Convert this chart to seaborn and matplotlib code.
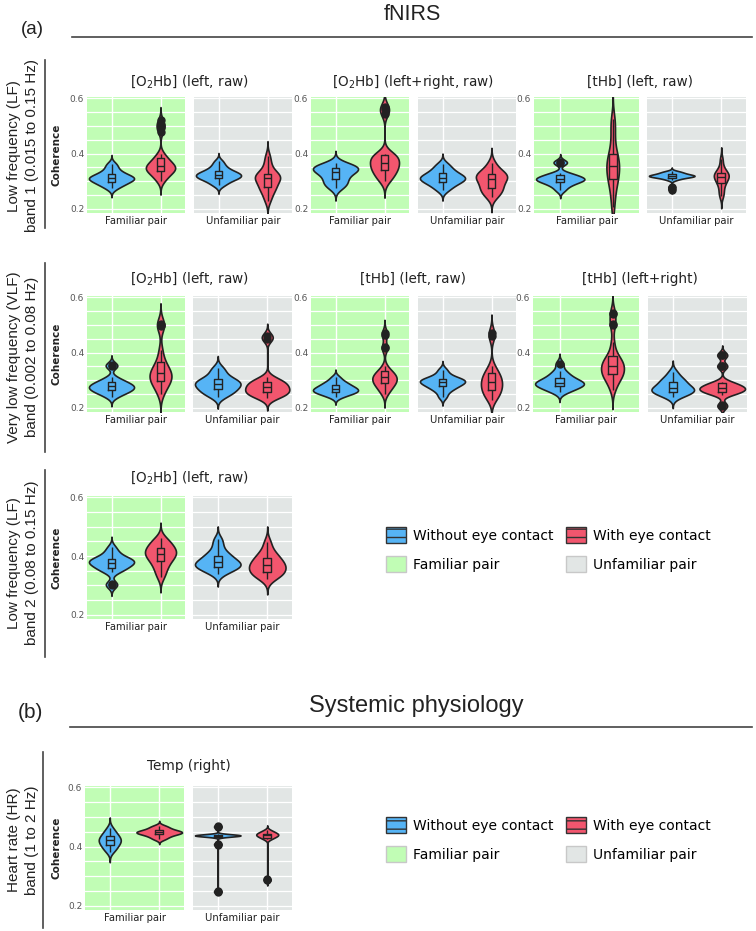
"""
Coherence violins: fNIRS channels and systemic physiology, with/without eye contact.
"""

import numpy as np
import pandas as pd
import seaborn as sns
import matplotlib.pyplot as plt
from matplotlib.lines import Line2D
from matplotlib.patches import Patch
from matplotlib.ticker import FixedLocator, MultipleLocator

W, H = 756, 931

BLUE = "#56B4F5"
RED = "#F2566E"
GREEN_BG = "#C1FDB5"
GREY_BG = "#E2E6E5"
INK = "#222222"

conditions = ["Without eye contact", "With eye contact"]
pair_labels = ["Familiar pair", "Unfamiliar pair"]
y_ticks = [0.2, 0.4, 0.6]

#####################################
# Coherence values
#####################################

# LF band 1 (0.015 to 0.15 Hz)
lf1_o2hb_left_fam_without = [0.274, 0.285, 0.29, 0.295, 0.30, 0.305, 0.308, 0.31, 0.312, 0.316, 0.32, 0.325, 0.33, 0.338, 0.35, 0.363]
lf1_o2hb_left_fam_with = [0.30, 0.31, 0.318, 0.325, 0.33, 0.335, 0.338, 0.342, 0.345, 0.348, 0.35, 0.352, 0.356, 0.36, 0.365, 0.37, 0.375, 0.38, 0.39, 0.40, 0.48, 0.495, 0.505, 0.52]
lf1_o2hb_left_unf_without = [0.285, 0.295, 0.302, 0.308, 0.311, 0.315, 0.318, 0.321, 0.324, 0.327, 0.331, 0.335, 0.34, 0.348, 0.358, 0.372]
lf1_o2hb_left_unf_with = [0.23, 0.25, 0.265, 0.275, 0.28, 0.29, 0.30, 0.308, 0.312, 0.316, 0.32, 0.325, 0.33, 0.345, 0.365, 0.39]
lf1_o2hb_lr_fam_without = [0.274, 0.285, 0.293, 0.30, 0.31, 0.318, 0.326, 0.332, 0.337, 0.341, 0.345, 0.348, 0.352, 0.356, 0.36, 0.366]
lf1_o2hb_lr_fam_with = [0.30, 0.31, 0.32, 0.328, 0.335, 0.342, 0.348, 0.353, 0.358, 0.364, 0.37, 0.376, 0.382, 0.388, 0.393, 0.397, 0.40, 0.545, 0.56, 0.57]
lf1_o2hb_lr_unf_without = [0.267, 0.28, 0.288, 0.295, 0.30, 0.305, 0.309, 0.312, 0.316, 0.32, 0.326, 0.332, 0.34, 0.35, 0.363]
lf1_o2hb_lr_unf_with = [0.243, 0.255, 0.265, 0.273, 0.28, 0.29, 0.30, 0.308, 0.313, 0.318, 0.322, 0.327, 0.335, 0.345, 0.366]
lf1_thb_left_fam_without = [0.267, 0.28, 0.288, 0.293, 0.298, 0.302, 0.305, 0.307, 0.309, 0.312, 0.316, 0.32, 0.325, 0.33, 0.366, 0.37]
lf1_thb_left_fam_with = [0.207, 0.25, 0.28, 0.30, 0.313, 0.325, 0.338, 0.35, 0.36, 0.372, 0.385, 0.392, 0.42, 0.46, 0.50, 0.525]
lf1_thb_left_unf_without = [0.27, 0.28, 0.305, 0.31, 0.313, 0.315, 0.317, 0.318, 0.319, 0.32, 0.321, 0.323, 0.325, 0.327, 0.33, 0.333, 0.336]
lf1_thb_left_unf_with = [0.245, 0.26, 0.275, 0.29, 0.297, 0.305, 0.31, 0.316, 0.32, 0.324, 0.328, 0.332, 0.34, 0.355, 0.38]

# VLF band (0.002 to 0.08 Hz)
vlf_o2hb_left_fam_without = [0.24, 0.25, 0.256, 0.26, 0.264, 0.268, 0.272, 0.275, 0.278, 0.281, 0.285, 0.29, 0.294, 0.30, 0.31, 0.35, 0.356]
vlf_o2hb_left_fam_with = [0.25, 0.265, 0.28, 0.288, 0.294, 0.30, 0.306, 0.312, 0.318, 0.322, 0.328, 0.335, 0.342, 0.35, 0.36, 0.38, 0.41, 0.495, 0.50, 0.505]
vlf_o2hb_left_unf_without = [0.24, 0.25, 0.258, 0.263, 0.27, 0.276, 0.282, 0.286, 0.29, 0.295, 0.30, 0.306, 0.315, 0.33, 0.345]
vlf_o2hb_left_unf_with = [0.235, 0.242, 0.248, 0.252, 0.256, 0.26, 0.265, 0.27, 0.275, 0.28, 0.285, 0.29, 0.295, 0.30, 0.31, 0.45, 0.46]
vlf_thb_left_fam_without = [0.24, 0.248, 0.253, 0.257, 0.26, 0.263, 0.266, 0.27, 0.274, 0.278, 0.283, 0.29, 0.296, 0.31]
vlf_thb_left_fam_with = [0.25, 0.262, 0.27, 0.277, 0.283, 0.288, 0.292, 0.296, 0.30, 0.304, 0.308, 0.312, 0.316, 0.32, 0.325, 0.33, 0.335, 0.35, 0.415, 0.42, 0.465, 0.47]
vlf_thb_left_unf_without = [0.24, 0.258, 0.268, 0.275, 0.28, 0.285, 0.29, 0.293, 0.296, 0.30, 0.303, 0.306, 0.312, 0.322, 0.338]
vlf_thb_left_unf_with = [0.23, 0.242, 0.252, 0.26, 0.268, 0.276, 0.284, 0.29, 0.298, 0.306, 0.314, 0.322, 0.332, 0.35, 0.46, 0.47]
vlf_thb_lr_fam_without = [0.257, 0.265, 0.272, 0.277, 0.281, 0.285, 0.288, 0.291, 0.295, 0.30, 0.306, 0.313, 0.322, 0.335, 0.36]
vlf_thb_lr_fam_with = [0.265, 0.28, 0.295, 0.305, 0.31, 0.315, 0.32, 0.325, 0.33, 0.335, 0.34, 0.345, 0.35, 0.355, 0.36, 0.365, 0.37, 0.375, 0.38, 0.39, 0.41, 0.44, 0.50, 0.505, 0.54, 0.545]
vlf_thb_lr_unf_without = [0.24, 0.248, 0.254, 0.258, 0.262, 0.266, 0.27, 0.274, 0.28, 0.288, 0.296, 0.302, 0.312, 0.33]
vlf_thb_lr_unf_with = [0.205, 0.21, 0.248, 0.252, 0.256, 0.259, 0.262, 0.265, 0.268, 0.27, 0.272, 0.275, 0.278, 0.282, 0.286, 0.29, 0.295, 0.35, 0.352, 0.39, 0.392]

# LF band 2 (0.08 to 0.15 Hz)
lf2_o2hb_left_fam_without = [0.30, 0.305, 0.345, 0.352, 0.358, 0.363, 0.368, 0.372, 0.376, 0.379, 0.382, 0.385, 0.388, 0.392, 0.396, 0.405, 0.415, 0.43]
lf2_o2hb_left_fam_with = [0.33, 0.35, 0.365, 0.378, 0.387, 0.395, 0.402, 0.408, 0.413, 0.418, 0.425, 0.432, 0.44, 0.45, 0.46]
lf2_o2hb_left_unf_without = [0.34, 0.35, 0.357, 0.362, 0.366, 0.37, 0.374, 0.378, 0.383, 0.39, 0.398, 0.405, 0.415, 0.435, 0.457]
lf2_o2hb_left_unf_with = [0.323, 0.332, 0.338, 0.343, 0.35, 0.357, 0.363, 0.368, 0.373, 0.38, 0.388, 0.397, 0.405, 0.42, 0.447]

# Heart rate band (1 to 2 Hz)
hr_temp_right_fam_without = [0.383, 0.392, 0.40, 0.406, 0.412, 0.417, 0.421, 0.425, 0.43, 0.436, 0.442, 0.45, 0.462]
hr_temp_right_fam_with = [0.425, 0.432, 0.437, 0.441, 0.444, 0.446, 0.448, 0.45, 0.452, 0.455, 0.459, 0.464, 0.47]
hr_temp_right_unf_without = [0.245, 0.25, 0.405, 0.41, 0.432, 0.434, 0.435, 0.436, 0.437, 0.437, 0.438, 0.438, 0.439, 0.44, 0.441, 0.443, 0.465, 0.47]
hr_temp_right_unf_with = [0.285, 0.29, 0.425, 0.43, 0.433, 0.436, 0.438, 0.44, 0.442, 0.444, 0.447, 0.45, 0.455]

#####################################
# Layout (pixels in the 756x931 canvas)
#####################################

# (title, fam_without, fam_with, unf_without, unf_with, title_y, axes top, axes bottom, fam x-range, unf x-range)
panels = [
    ("[O$_2$Hb] (left, raw)", lf1_o2hb_left_fam_without, lf1_o2hb_left_fam_with, lf1_o2hb_left_unf_without, lf1_o2hb_left_unf_with, 82, 97, 213, (87, 185), (194, 292)),
    ("[O$_2$Hb] (left+right, raw)", lf1_o2hb_lr_fam_without, lf1_o2hb_lr_fam_with, lf1_o2hb_lr_unf_without, lf1_o2hb_lr_unf_with, 82, 97, 213, (311, 409), (418, 516)),
    ("[tHb] (left, raw)", lf1_thb_left_fam_without, lf1_thb_left_fam_with, lf1_thb_left_unf_without, lf1_thb_left_unf_with, 82, 97, 213, (534, 639), (647, 746)),
    ("[O$_2$Hb] (left, raw)", vlf_o2hb_left_fam_without, vlf_o2hb_left_fam_with, vlf_o2hb_left_unf_without, vlf_o2hb_left_unf_with, 279, 296, 412, (87, 185), (193, 292)),
    ("[tHb] (left, raw)", vlf_thb_left_fam_without, vlf_thb_left_fam_with, vlf_thb_left_unf_without, vlf_thb_left_unf_with, 279, 296, 412, (311, 409), (418, 516)),
    ("[tHb] (left+right)", vlf_thb_lr_fam_without, vlf_thb_lr_fam_with, vlf_thb_lr_unf_without, vlf_thb_lr_unf_with, 279, 296, 412, (533, 639), (648, 747)),
    ("[O$_2$Hb] (left, raw)", lf2_o2hb_left_fam_without, lf2_o2hb_left_fam_with, lf2_o2hb_left_unf_without, lf2_o2hb_left_unf_with, 478, 496, 619, (87, 185), (193, 292)),
    ("Temp (right)", hr_temp_right_fam_without, hr_temp_right_fam_with, hr_temp_right_unf_without, hr_temp_right_unf_with, 766, 786, 910, (85, 184), (193, 292)),
]

row_labels = [
    ("Low frequency (LF)\nband 1 (0.015 to 0.15 Hz)", 146, 60, 228, 45),
    ("Very low frequency (VLF)\nband (0.002 to 0.08 Hz)", 357, 263, 452, 45),
    ("Low frequency (LF)\nband 2 (0.08 to 0.15 Hz)", 563, 470, 657, 45),
    ("Heart rate (HR)\nband (1 to 2 Hz)", 840, 752, 928, 43),
]


def nrd0_factor(kde):
    """Silverman's rule (like R's bw.nrd0), returned as a factor of the data sd."""
    x = np.asarray(kde.dataset).ravel()
    sd = x.std(ddof=1)
    q75, q25 = np.percentile(x, [75, 25])
    lo = min(sd, (q75 - q25) / 1.34)
    if lo <= 0:
        lo = sd
    return 0.9 * lo * len(x) ** -0.2 / sd


def px_axes(fig, left, top, right, bottom):
    return fig.add_axes([left / W, 1 - bottom / H, (right - left) / W, (bottom - top) / H])


def draw_pair(ax, without, with_, bg, xlabel, show_y):
    df = pd.DataFrame({
        "cond": [conditions[0]] * len(without) + [conditions[1]] * len(with_),
        "coh": list(without) + list(with_),
    })
    ax.set_facecolor(bg)
    sns.violinplot(data=df, x="cond", y="coh", hue="cond", order=conditions, hue_order=conditions,
                   palette=[BLUE, RED], saturation=1, inner=None, cut=3, width=0.92,
                   density_norm="area", common_norm=True,
                   bw_method=nrd0_factor, gridsize=400, linewidth=1.2, linecolor=INK,
                   legend=False, ax=ax)
    sns.boxplot(data=df, x="cond", y="coh", order=conditions, width=0.16, fill=False, color=INK,
                linewidth=1.0, showcaps=False,
                flierprops=dict(marker="o", markersize=5, markerfacecolor=INK, markeredgecolor=INK),
                ax=ax)
    ax.set_xlim(-0.5, 1.5)
    ax.set_ylim(0.185, 0.605)
    ax.set_xticks([0, 1])
    ax.yaxis.set_major_locator(FixedLocator(y_ticks))
    ax.yaxis.set_minor_locator(MultipleLocator(0.05))
    ax.set_axisbelow(True)
    ax.grid(which="both", axis="y", color="white", linewidth=0.9)
    ax.grid(which="major", axis="x", color="white", linewidth=1.0)
    for s in ax.spines.values():
        s.set_visible(False)
    ax.tick_params(axis="x", length=0, labelbottom=False)
    ax.tick_params(axis="y", which="both", length=0, labelsize=6.5, labelcolor="#555555", pad=2,
                   labelleft=show_y)
    ax.set_ylabel("")
    ax.set_xlabel(xlabel, fontsize=7.2, labelpad=2, color=INK)


fig = plt.figure(figsize=(W / 100, H / 100), dpi=100)
fig.patch.set_facecolor("white")

for title, fw, fwi, uw, uwi, ty, top, bot, fx, ux in panels:
    ax_f = px_axes(fig, fx[0], top, fx[1], bot)
    draw_pair(ax_f, fw, fwi, GREEN_BG, pair_labels[0], True)
    ax_u = px_axes(fig, ux[0], top, ux[1], bot)
    draw_pair(ax_u, uw, uwi, GREY_BG, pair_labels[1], False)
    fig.text((fx[0] + ux[1]) / 2 / W, 1 - ty / H, title, ha="center", va="center",
             fontsize=9.8, color=INK)
    if fx[0] < 100:
        fig.text(57 / W, 1 - (top + bot) / 2 / H, "Coherence", rotation=90, ha="center",
                 va="center", fontsize=7.5, fontweight="bold", color=INK)

for text, cy, y0, y1, lx in row_labels:
    fig.text(23 / W, 1 - cy / H, text, rotation=90, ha="center", va="center",
             multialignment="center", fontsize=11, linespacing=1.35,
             family="Liberation Sans", color=INK)
    fig.add_artist(Line2D([lx / W, lx / W], [1 - y0 / H, 1 - y1 / H], color="#444444", lw=1.2))

# section headings
fig.text(412 / W, 1 - 14 / H, "fNIRS", ha="center", va="center", fontsize=15.5,
         family="Liberation Sans", color=INK)
fig.text(32 / W, 1 - 29 / H, "(a)", ha="center", va="center", fontsize=13.5,
         family="Liberation Sans", color=INK)
fig.add_artist(Line2D([72 / W, 752 / W], [1 - 37 / H, 1 - 37 / H], color="#444444", lw=1.2))

fig.text(416 / W, 1 - 706 / H, "Systemic physiology", ha="center", va="center", fontsize=17,
         family="Liberation Sans", color=INK)
fig.text(30 / W, 1 - 713 / H, "(b)", ha="center", va="center", fontsize=15,
         family="Liberation Sans", color=INK)
fig.add_artist(Line2D([70 / W, 752 / W], [1 - 727 / H, 1 - 727 / H], color="#444444", lw=1.2))

# legends
handles = [
    Patch(facecolor=BLUE, edgecolor="#333333", hatch="--", linewidth=1.0),
    Patch(facecolor=GREEN_BG, edgecolor="#C8C8C8", linewidth=1.0),
    Patch(facecolor=RED, edgecolor="#333333", hatch="--", linewidth=1.0),
    Patch(facecolor=GREY_BG, edgecolor="#C8C8C8", linewidth=1.0),
]
labels = [conditions[0], pair_labels[0], conditions[1], pair_labels[1]]
for top_px in (527, 817):
    fig.legend(handles, labels, ncol=2, loc="upper left",
               bbox_to_anchor=(386 / W, 1 - top_px / H), frameon=False, fontsize=10,
               handlelength=1.45, handleheight=1.45, handletextpad=0.5,
               columnspacing=0.9, labelspacing=0.9, borderpad=0, borderaxespad=0)

fig.savefig("out.png", dpi=100)
